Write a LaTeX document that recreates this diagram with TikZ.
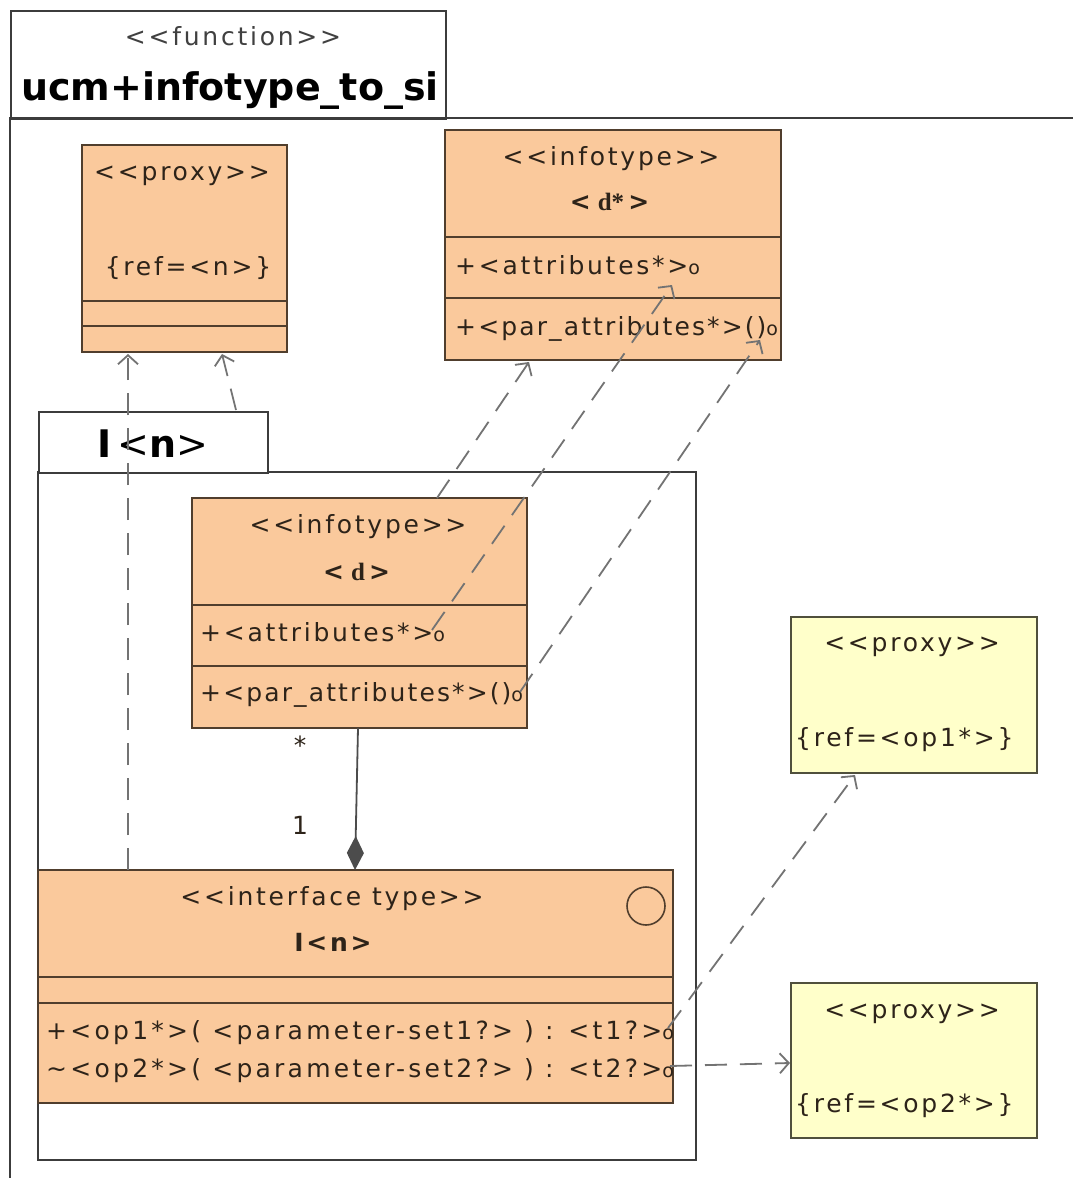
\documentclass[tikz,border=0pt]{standalone}
\usepackage{fontspec}
\setmainfont{DejaVu Sans}[Ligatures=TeXOff]
\newfontfamily\lblfont{DejaVu Sans}[Ligatures=TeXOff, LetterSpace=11]
\newfontfamily\opfont{DejaVu Sans}[Ligatures=TeXOff, LetterSpace=13]
\newfontfamily\parfont{DejaVu Sans}[Ligatures=TeXOff, LetterSpace=8.5]
\newfontfamily\serifb{Liberation Serif}
\usetikzlibrary{arrows.meta}
\definecolor{ofill}{RGB}{250,201,156}
\definecolor{yfill}{RGB}{255,255,202}
\definecolor{bline}{RGB}{80,62,45}
\definecolor{ybline}{RGB}{80,80,60}
\definecolor{txt}{RGB}{45,35,25}
\definecolor{dline}{RGB}{115,115,115}
\definecolor{frm}{RGB}{60,60,60}
\tikzset{
  obox/.style={draw=bline, fill=ofill, line width=1.6pt, anchor=north west, inner sep=0pt, outer sep=0pt},
  ybox/.style={draw=ybline, fill=yfill, line width=1.6pt, anchor=north west, inner sep=0pt, outer sep=0pt},
  sepline/.style={draw=bline, line width=1.6pt},
  frame/.style={draw=frm, line width=1.6pt},
  lbl/.style={anchor=base, inner sep=0pt, text=txt, font=\lblfont\fontsize{25}{28}\selectfont},
  lbll/.style={lbl, anchor=base west},
  oplbl/.style={lbll, font=\opfont\fontsize{25}{28}\selectfont},
  parlbl/.style={lbll, font=\parfont\fontsize{25}{28}\selectfont},
  dep/.style={draw=dline, line width=1.8pt, dash pattern=on 22pt off 13pt,
    -{Straight Barb[length=9pt,width=20pt,line width=1.8pt]}},
  comp/.style={draw=black!70, line width=1.8pt,
    -{Diamond[length=34pt,width=17pt,fill=black!70]}},
}
\newcommand{\smo}{{\fontsize{19}{19}\selectfont o}}
\begin{document}
\begin{tikzpicture}[x=1pt,y=-1pt]
\useasboundingbox[fill=white] (0,0) rectangle (1073,1178);
% outer function frame
\draw[frame] (10,1178) -- (10,118) -- (1073,118);
\node[draw=frm, line width=1.6pt, anchor=north west, minimum width=435pt, minimum height=108pt, inner sep=0pt] (fbox) at (10,10) {};
\node[lbl, text=black!75] (ftype) at (233,45) {<<function>>};
\node[lbl, text=black, font=\fontsize{38}{44}\selectfont\bfseries] (fname) at (230,100) {ucm+infotype\_to\_si};

% proxy n
\node[obox, minimum width=205pt, minimum height=207pt] (pn) at (82,145) {};
\draw[sepline] (82,301) -- (287,301);
\draw[sepline] (82,326) -- (287,326);
\node[lbl] (pnt) at (182,180) {<<proxy>>};
\node[lbl] (pnr) at (188,275) {\{ref=<n>\}};

% infotype d*
\node[obox, minimum width=336pt, minimum height=230pt] (dst) at (445,130) {};
\draw[sepline] (445,237) -- (781,237);
\draw[sepline] (445,298) -- (781,298);
\node[lbl] (dstt) at (611,165) {<<infotype>>};
\node[lbl] (dstn) at (611,210) {\textbf{<}\,{\serifb\bfseries d*}\,\textbf{>}};
\node[lbll] (dsta) at (455,274) {+<attributes*>\smo};
\node[parlbl] (dstp) at (455,335) {+<par\_attributes*>()\smo};

% package I<n>
\draw[frame, fill=white] (38,472) rectangle (696,1160);
\node[draw=frm, line width=1.6pt, fill=white, anchor=north west, minimum width=229pt, minimum height=61pt, inner sep=0pt] (ptab) at (38,411) {};
\node[lbl, text=black, font=\fontsize{38}{44}\selectfont] (ptitle) at (153,457) {\textbf{I}\,<\textbf{n}>};

% infotype d
\node[obox, minimum width=335pt, minimum height=230pt] (dd) at (192,498) {};
\draw[sepline] (192,605) -- (527,605);
\draw[sepline] (192,666) -- (527,666);
\node[lbl] (ddt) at (358,533) {<<infotype>>};
\node[lbl] (ddn) at (358,580) {\textbf{<}\,{\serifb\bfseries d}\,\textbf{>}};
\node[lbll] (dda) at (200,641) {+<attributes*>\smo};
\node[parlbl] (ddp) at (200,701) {+<par\_attributes*>()\smo};

% interface type
\node[obox, minimum width=635pt, minimum height=233pt] (ifc) at (38,870) {};
\draw[sepline] (38,977) -- (673,977);
\draw[sepline] (38,1003) -- (673,1003);
\node[lbl] (ifct) at (332,905) {<<interface type>>};
\node[lbl, font=\lblfont\fontsize{25}{28}\selectfont\bfseries] (ifcn) at (333,951) {I<n>};
\node[draw=bline, line width=1.6pt, circle, minimum size=38pt, inner sep=0pt] (ifcc) at (646,906) {};
\node[oplbl] (op1) at (46,1039) {+<op1*>( <parameter-set1?> ) : <t1?>\smo};
\node[oplbl] (op2) at (46,1077) {\textasciitilde<op2*>( <parameter-set2?> ) : <t2?>\smo};

% proxies op1, op2
\node[ybox, minimum width=246pt, minimum height=156pt] (pop1) at (791,617) {};
\node[lbl] (pop1t) at (912,651) {<<proxy>>};
\node[lbll] (pop1r) at (795,746) {\{ref=<op1*>\}};
\node[ybox, minimum width=246pt, minimum height=155pt] (pop2) at (791,983) {};
\node[lbl] (pop2t) at (912,1018) {<<proxy>>};
\node[lbll] (pop2r) at (795,1112) {\{ref=<op2*>\}};

% multiplicities
\node[lbl] (mstar) at (300,754) {*};
\node[lbl] (mone) at (300,834) {1};

% connector ports
\coordinate (a1s) at (128,870);  \coordinate (a1e) at (128,354);
\coordinate (a2s) at (236,410);  \coordinate (a2e) at (222,354);
\coordinate (a3s) at (437,498);  \coordinate (a3e) at (529,362);
\coordinate (a4s) at (432,630);  \coordinate (a4e) at (672,285);
\coordinate (a5s) at (520,692);  \coordinate (a5e) at (760,340);
\coordinate (a6s) at (668,1028); \coordinate (a6e) at (855,775);
\coordinate (a7s) at (670,1066); \coordinate (a7e) at (790,1063);
\coordinate (cs) at (358,728);   \coordinate (ce) at (355,870);

\draw[dep] (a1s) -- (a1e);
\draw[dep] (a2s) -- (a2e);
\draw[dep] (a3s) -- (a3e);
\draw[dep] (a4s) -- (a4e);
\draw[dep] (a5s) -- (a5e);
\draw[dep] (a6s) -- (a6e);
\draw[dep] (a7s) -- (a7e);
\draw[comp] (cs) -- (ce);
\end{tikzpicture}
\end{document}
